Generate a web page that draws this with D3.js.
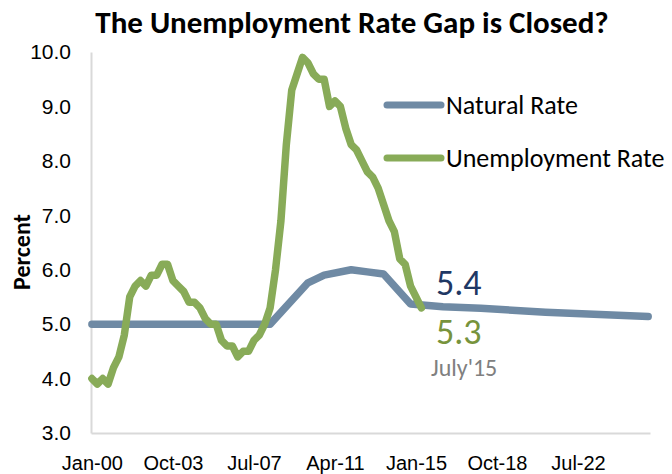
<html>
  <head>
    <meta charset="utf-8" />
    <script src="https://cdnjs.cloudflare.com/ajax/libs/d3/7.8.5/d3.min.js"></script>
    <style>
      body { margin: 0; background: #fff; }
      svg { font-family: Carlito, Lato, sans-serif; }
      .axis path.domain { stroke: #d9d9d9; stroke-width: 2; }
      .axis line { display: none; }
      .yaxis text { font-size: 21px; fill: #000; }
      .xaxis text { font-family: "Liberation Sans Narrow", "Arial Narrow", sans-serif; font-size: 20px; fill: #000; }
    </style>
  </head>
  <body>
    <svg width="672" height="474"></svg>
  </body>
  <script>
    // quarterly unemployment rate, Q1 2000 .. Q2 2015
    const unempRate = [
      4.0, 3.9, 4.0, 3.9,
      4.2, 4.4, 4.8, 5.5,
      5.7, 5.8, 5.7, 5.9,
      5.9, 6.1, 6.1, 5.8,
      5.7, 5.6, 5.4, 5.4,
      5.3, 5.1, 5.0, 5.0,
      4.7, 4.6, 4.6, 4.4,
      4.5, 4.5, 4.7, 4.8,
      5.0, 5.3, 6.0, 6.9,
      8.3, 9.3, 9.6, 9.9,
      9.8, 9.6, 9.5, 9.5,
      9.0, 9.1, 9.0, 8.6,
      8.3, 8.2, 8.0, 7.8,
      7.7, 7.5, 7.2, 6.9,
      6.7, 6.2, 6.1, 5.7,
      5.5, 5.3
    ];

    // natural rate: months since Jan 2000 and value
    const natMonths = [0, 99, 120, 129, 144, 153, 162, 177, 195, 216, 252, 309];
    const natValues = [5.0, 5.0, 5.76, 5.9, 6.0, 5.96, 5.92, 5.37, 5.32, 5.29, 5.22, 5.14];

    const tickMonths = [0, 45, 90, 135, 180, 225, 270];
    const tickLabels = ["Jan-00", "Oct-03", "Jul-07", "Apr-11", "Jan-15", "Oct-18", "Jul-22"];
    const yTicks = [3, 4, 5, 6, 7, 8, 9, 10];

    const seriesNames = ["Natural Rate", "Unemployment Rate"];
    const seriesColors = ["#6f8aa4", "#88ab58"];

    const svg = d3.select("svg");
    const x = d3.scaleLinear().domain([-0.5, 310]).range([91, 650]);
    const y = d3.scaleLinear().domain([3, 10]).range([433, 52]);

    svg.append("text")
      .attr("x", 352).attr("y", 33)
      .attr("text-anchor", "middle")
      .style("font-size", "31px").style("font-weight", "bold")
      .text("The Unemployment Rate Gap is Closed?");

    const yAxis = d3.axisLeft(y).tickValues(yTicks).tickSize(0).tickPadding(20).tickFormat(d3.format(".1f"));
    svg.append("g").attr("class", "axis yaxis").attr("transform", "translate(91,0)").call(yAxis);

    const xAxis = d3.axisBottom(x).tickValues(tickMonths).tickSize(0).tickPadding(23)
      .tickFormat((d, i) => tickLabels[i]);
    svg.append("g").attr("class", "axis xaxis").attr("transform", "translate(0,433)").call(xAxis);

    svg.append("text")
      .attr("transform", "translate(30,252) rotate(-90)")
      .attr("text-anchor", "middle")
      .style("font-size", "24px").style("font-weight", "bold")
      .text("Percent");

    const line = d3.line().x(d => x(d[0])).y(d => y(d[1]));

    const natData = natMonths.map((m, i) => [m, natValues[i]]);
    const urData = unempRate.map((v, i) => [i * 3, v]);

    [natData, urData].forEach((data, i) => {
      svg.append("path")
        .datum(data)
        .attr("d", line)
        .attr("fill", "none")
        .attr("stroke", seriesColors[i])
        .attr("stroke-width", 7.5)
        .attr("stroke-linejoin", "round")
        .attr("stroke-linecap", "round");
    });

    // legend
    const legend = svg.append("g");
    seriesNames.forEach((name, i) => {
      const ly = 105 + i * 53;
      legend.append("line")
        .attr("x1", 387).attr("x2", 441).attr("y1", ly).attr("y2", ly)
        .attr("stroke", seriesColors[i]).attr("stroke-width", 7).attr("stroke-linecap", "round");
      legend.append("text")
        .attr("x", 446).attr("y", ly + 9)
        .style("font-size", "26px")
        .text(name);
    });

    // annotations
    svg.append("text").attr("x", 436).attr("y", 295)
      .style("font-size", "36px").style("fill", "#1f3864").text("5.4");
    svg.append("text").attr("x", 436).attr("y", 344)
      .style("font-size", "36px").style("fill", "#77933c").text("5.3");
    svg.append("text").attr("x", 431).attr("y", 376)
      .style("font-size", "24px").style("fill", "#808080").text("July'15");
  </script>
</html>
